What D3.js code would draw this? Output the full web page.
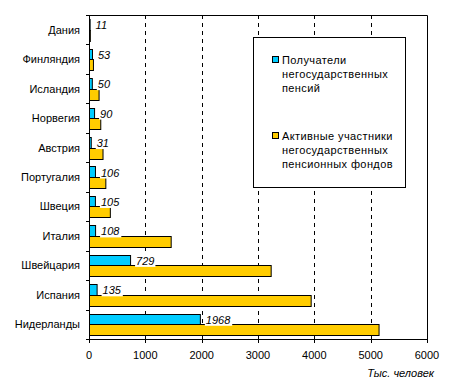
<!DOCTYPE html>
<html><head><meta charset="utf-8">
<script src="https://cdn.jsdelivr.net/npm/d3@7"></script>
<style>body{margin:0;background:#fff}svg{display:block;font-family:"Liberation Sans",Arial,sans-serif}</style>
</head><body><svg id="c" width="449" height="389"></svg>
<script>
const categories = ["Дания","Финляндия","Исландия","Норвегия","Австрия","Португалия","Швеция","Италия","Швейцария","Испания","Нидерланды"];
const recipients = [11,53,50,90,31,106,105,108,729,135,1968];
const participants = [15,70,170,200,240,290,370,1450,3225,3935,5140];
const xTicks = [0,1000,2000,3000,4000,5000,6000];
const seriesNames = ["Получатели негосударственных пенсий","Активные участники негосударственных пенсионных фондов"];
const legendLines = [["Получатели","негосударственных","пенсий"],["Активные участники","негосударственных","пенсионных фондов"]];
const colors = ["#00CCFF","#FFCC00"];

const svg = d3.select("#c");
const L=89, R=427, T=15, B=339;
const x = d3.scaleLinear().domain([0,6000]).range([L,R]);
const y = d3.scaleBand().domain(categories).range([T,B]).paddingInner(0.287).paddingOuter(0.1435);
const sub = d3.scaleBand().domain([0,1]).range([0,y.bandwidth()]);

// gridlines
svg.append("g").selectAll("line").data(xTicks.slice(1,-1)).join("line")
  .attr("x1",d=>Math.round(x(d))+0.5).attr("x2",d=>Math.round(x(d))+0.5)
  .attr("y1",T).attr("y2",B).attr("stroke","#000").attr("stroke-dasharray","4,4");

// frame top and right
svg.append("path").attr("d",`M${L},${T+0.5}H${R+0.5}V${B}`).attr("fill","none").attr("stroke","#000");

// bars
const g = svg.append("g");
[recipients,participants].forEach((vals,si)=>{
  g.selectAll(null).data(categories).join("rect")
    .attr("x",x(0)+0.5)
    .attr("y",(d)=>Math.round(y(d)+sub(si))+0.5)
    .attr("width",(d,i)=>Math.max(0,x(vals[i])-x(0)))
    .attr("height",Math.round(sub.bandwidth()))
    .attr("fill",colors[si]).attr("stroke","#000").attr("stroke-width",1);
});

// value labels
categories.forEach((c,i)=>{
  const lx = x(recipients[i])+6, ly = y(c)+sub(0)+sub.bandwidth()-0.5;
  const t = svg.append("text").attr("x",lx).attr("y",ly).attr("font-size",11).attr("font-style","italic").text(recipients[i]);
  const bb = t.node().getBBox();
  svg.insert("rect","text:last-of-type").attr("x",bb.x-1).attr("y",bb.y).attr("width",bb.width+2).attr("height",bb.height).attr("fill","#fff");
  t.raise();
});

// y axis
const yAxis = svg.append("g");
yAxis.append("line").attr("x1",L+0.5).attr("x2",L+0.5).attr("y1",T).attr("y2",B+3).attr("stroke","#000");
const bounds = d3.range(categories.length+1).map(k=>T+k*y.step());
yAxis.selectAll(".tk").data(bounds).join("line")
  .attr("x1",L-3).attr("x2",L).attr("y1",d=>Math.round(d)+0.5).attr("y2",d=>Math.round(d)+0.5).attr("stroke","#000");
yAxis.selectAll("text").data(categories).join("text")
  .attr("x",80).attr("y",d=>y(d)+y.bandwidth()/2+4).attr("text-anchor","end").attr("font-size",11).text(d=>d);

// x axis
const xAxis = svg.append("g");
xAxis.append("line").attr("x1",L).attr("x2",R+0.5).attr("y1",B+0.5).attr("y2",B+0.5).attr("stroke","#000");
xAxis.selectAll(".tk").data(xTicks).join("line")
  .attr("x1",d=>Math.round(x(d))+0.5).attr("x2",d=>Math.round(x(d))+0.5).attr("y1",B).attr("y2",B+4).attr("stroke","#000");
xAxis.selectAll("text").data(xTicks).join("text")
  .attr("x",d=>x(d)).attr("y",359).attr("text-anchor","middle").attr("font-size",11).text(d=>d);
svg.append("text").attr("x",434).attr("y",377).attr("text-anchor","end").attr("font-size",11).attr("font-style","italic").text("Тыс. человек");

// legend
const lg = svg.append("g");
lg.append("rect").attr("x",253.5).attr("y",37.5).attr("width",152).attr("height",150).attr("fill","#fff").attr("stroke","#000");
[60,136].forEach((yy,si)=>{
  lg.append("rect").attr("x",272.5).attr("y",yy-3.5).attr("width",6).attr("height",6).attr("fill",colors[si]).attr("stroke","#000");
  legendLines[si].forEach((ln,k)=>{
    lg.append("text").attr("x",282).attr("y",yy+4+k*14).attr("font-size",11).attr("letter-spacing",0.4).text(ln);
  });
});
</script></body></html>
